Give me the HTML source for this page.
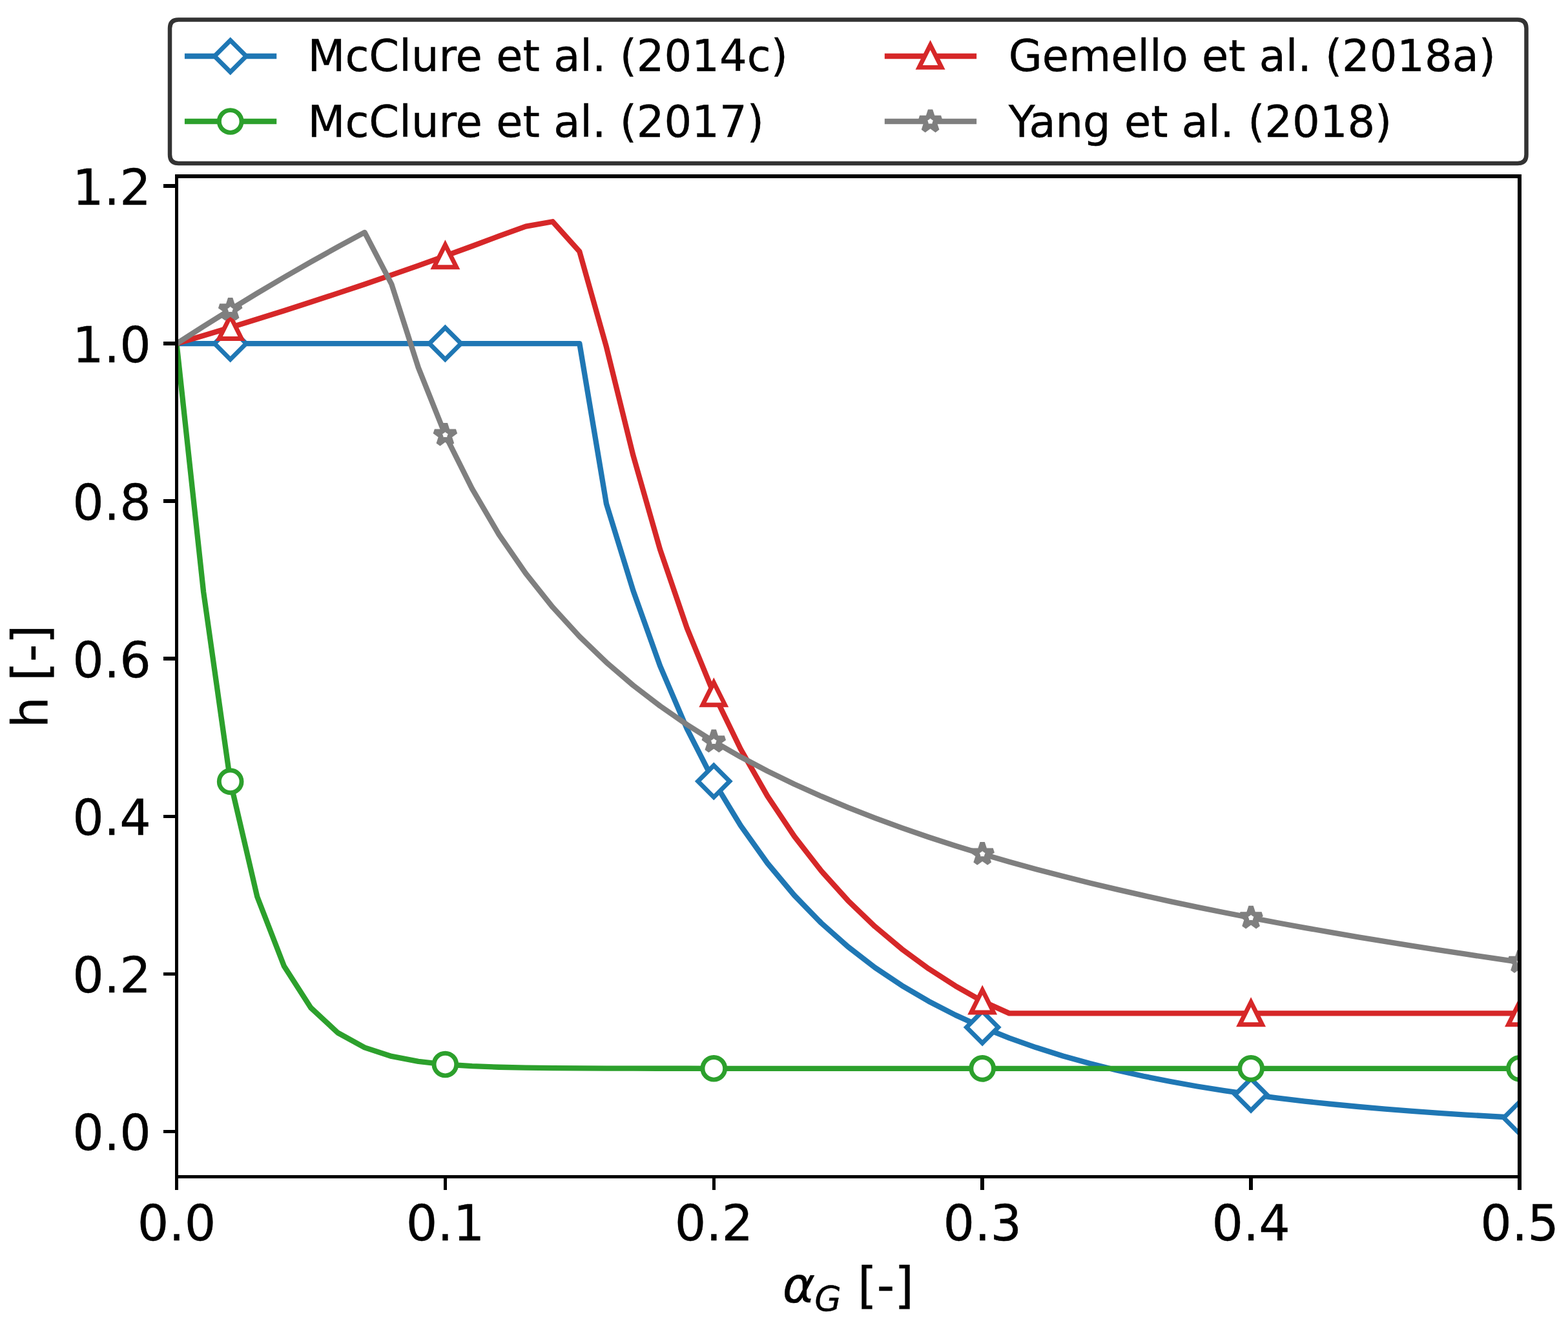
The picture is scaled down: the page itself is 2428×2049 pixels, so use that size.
<!DOCTYPE html>
<html lang="en">
<head>
<meta charset="utf-8">
<title>Swarm factor h vs gas fraction</title>
<style>
html,body{margin:0;padding:0;background:#fff;}
body{width:2428px;height:2049px;overflow:hidden;}
svg{display:block;}
</style>
</head>
<body>
<svg width="2428" height="2049" viewBox="0 0 2428 2049">
<defs><clipPath id="ax"><rect x="273.5" y="273" width="2079.5" height="1549.5"/></clipPath></defs>
<rect width="2428" height="2049" fill="#fff"/>
<g clip-path="url(#ax)">
<polyline points="273.5,532.05 315.09,532.05 356.68,532.05 398.27,532.05 439.86,532.05 481.45,532.05 523.04,532.05 564.63,532.05 606.22,532.05 647.81,532.05 689.4,532.05 730.99,532.05 772.58,532.05 814.17,532.05 855.76,532.05 897.35,532.05 938.94,780.23 980.53,915.02 1022.12,1031.44 1063.71,1128.64 1105.3,1210.05 1146.89,1278.69 1188.48,1336.97 1230.07,1386.74 1271.66,1429.5 1313.25,1466.41 1354.84,1498.43 1396.43,1526.32 1438.02,1550.7 1479.61,1572.1 1521.2,1590.95 1562.79,1607.59 1604.38,1622.32 1645.97,1635.41 1687.56,1647.06 1729.15,1657.44 1770.74,1666.73 1812.33,1675.04 1853.92,1682.5 1895.51,1689.2 1937.1,1695.24 1978.69,1700.67 2020.28,1705.57 2061.87,1710 2103.46,1714 2145.05,1717.63 2186.64,1720.91 2228.23,1723.88 2269.82,1726.58 2311.41,1729.03 2353,1731.25" fill="none" stroke="#1f77b4" stroke-width="8.33" stroke-linejoin="round" stroke-linecap="square"/>
<polygon points="356.68,556.61 381.23,532.05 356.68,507.5 332.13,532.05" fill="#fff" stroke="#1f77b4" stroke-width="6.94" stroke-linejoin="miter"/>
<polygon points="689.4,556.61 713.95,532.05 689.4,507.5 664.85,532.05" fill="#fff" stroke="#1f77b4" stroke-width="6.94" stroke-linejoin="miter"/>
<polygon points="1105.3,1234.6 1129.85,1210.05 1105.3,1185.5 1080.75,1210.05" fill="#fff" stroke="#1f77b4" stroke-width="6.94" stroke-linejoin="miter"/>
<polygon points="1521.2,1615.5 1545.75,1590.95 1521.2,1566.39 1496.65,1590.95" fill="#fff" stroke="#1f77b4" stroke-width="6.94" stroke-linejoin="miter"/>
<polygon points="1937.1,1719.79 1961.65,1695.24 1937.1,1670.68 1912.55,1695.24" fill="#fff" stroke="#1f77b4" stroke-width="6.94" stroke-linejoin="miter"/>
<polygon points="2353,1755.81 2377.55,1731.25 2353,1706.7 2328.45,1731.25" fill="#fff" stroke="#1f77b4" stroke-width="6.94" stroke-linejoin="miter"/>
<polyline points="273.5,532.05 315.09,916.47 356.68,1210.38 398.27,1388.69 439.86,1496.3 481.45,1560.91 523.04,1599.49 564.63,1622.4 606.22,1635.93 647.81,1643.88 689.4,1648.52 730.99,1651.21 772.58,1652.77 814.17,1653.66 855.76,1654.16 897.35,1654.45 938.94,1654.61 980.53,1654.7 1022.12,1654.75 1063.71,1654.78 1105.3,1654.79 1146.89,1654.8 1188.48,1654.8 1230.07,1654.81 1271.66,1654.81 1313.25,1654.81 1354.84,1654.81 1396.43,1654.81 1438.02,1654.81 1479.61,1654.81 1521.2,1654.81 1562.79,1654.81 1604.38,1654.81 1645.97,1654.81 1687.56,1654.81 1729.15,1654.81 1770.74,1654.81 1812.33,1654.81 1853.92,1654.81 1895.51,1654.81 1937.1,1654.81 1978.69,1654.81 2020.28,1654.81 2061.87,1654.81 2103.46,1654.81 2145.05,1654.81 2186.64,1654.81 2228.23,1654.81 2269.82,1654.81 2311.41,1654.81 2353,1654.81" fill="none" stroke="#2ca02c" stroke-width="8.33" stroke-linejoin="round" stroke-linecap="square"/>
<circle cx="356.68" cy="1210.38" r="17.36" fill="#fff" stroke="#2ca02c" stroke-width="6.94"/>
<circle cx="689.4" cy="1648.52" r="17.36" fill="#fff" stroke="#2ca02c" stroke-width="6.94"/>
<circle cx="1105.3" cy="1654.79" r="17.36" fill="#fff" stroke="#2ca02c" stroke-width="6.94"/>
<circle cx="1521.2" cy="1654.81" r="17.36" fill="#fff" stroke="#2ca02c" stroke-width="6.94"/>
<circle cx="1937.1" cy="1654.81" r="17.36" fill="#fff" stroke="#2ca02c" stroke-width="6.94"/>
<circle cx="2353" cy="1654.81" r="17.36" fill="#fff" stroke="#2ca02c" stroke-width="6.94"/>
<polyline points="273.5,532.05 315.09,519.73 356.68,507.15 398.27,494.31 439.86,481.2 481.45,467.82 523.04,454.16 564.63,440.2 606.22,425.93 647.81,411.36 689.4,396.45 730.99,381.22 772.58,365.7 814.17,350.59 855.76,343.24 897.35,389.52 938.94,537.18 980.53,705.67 1022.12,851.19 1063.71,972.69 1105.3,1074.45 1146.89,1160.26 1188.48,1233.1 1230.07,1295.32 1271.66,1348.76 1313.25,1394.91 1354.84,1434.93 1396.43,1469.79 1438.02,1500.27 1479.61,1527.02 1521.2,1550.57 1562.79,1569.38 1604.38,1569.38 1645.97,1569.38 1687.56,1569.38 1729.15,1569.38 1770.74,1569.38 1812.33,1569.38 1853.92,1569.38 1895.51,1569.38 1937.1,1569.38 1978.69,1569.38 2020.28,1569.38 2061.87,1569.38 2103.46,1569.38 2145.05,1569.38 2186.64,1569.38 2228.23,1569.38 2269.82,1569.38 2311.41,1569.38 2353,1569.38" fill="none" stroke="#d62728" stroke-width="8.33" stroke-linejoin="round" stroke-linecap="square"/>
<polygon points="356.68,489.79 339.32,524.51 374.04,524.51" fill="#fff" stroke="#d62728" stroke-width="6.94" stroke-linejoin="miter" stroke-miterlimit="10"/>
<polygon points="689.4,379.09 672.04,413.82 706.76,413.82" fill="#fff" stroke="#d62728" stroke-width="6.94" stroke-linejoin="miter" stroke-miterlimit="10"/>
<polygon points="1105.3,1057.09 1087.94,1091.81 1122.66,1091.81" fill="#fff" stroke="#d62728" stroke-width="6.94" stroke-linejoin="miter" stroke-miterlimit="10"/>
<polygon points="1521.2,1533.21 1503.84,1567.93 1538.56,1567.93" fill="#fff" stroke="#d62728" stroke-width="6.94" stroke-linejoin="miter" stroke-miterlimit="10"/>
<polygon points="1937.1,1552.02 1919.74,1586.74 1954.46,1586.74" fill="#fff" stroke="#d62728" stroke-width="6.94" stroke-linejoin="miter" stroke-miterlimit="10"/>
<polygon points="2353,1552.02 2335.64,1586.74 2370.36,1586.74" fill="#fff" stroke="#d62728" stroke-width="6.94" stroke-linejoin="miter" stroke-miterlimit="10"/>
<polyline points="273.5,532.15 315.09,505.45 356.68,479.45 398.27,454.15 439.86,429.54 481.45,405.64 523.04,382.42 564.63,359.91 606.22,439.84 647.81,569.36 689.4,673.58 730.99,756.81 772.58,827.78 814.17,888.19 855.76,940.3 897.35,985.77 938.94,1025.85 980.53,1061.49 1022.12,1093.42 1063.71,1122.24 1105.3,1148.41 1146.89,1172.3 1188.48,1194.24 1230.07,1214.47 1271.66,1233.21 1313.25,1250.63 1354.84,1266.9 1396.43,1282.13 1438.02,1296.44 1479.61,1309.92 1521.2,1322.65 1562.79,1334.72 1604.38,1346.18 1645.97,1357.08 1687.56,1367.48 1729.15,1377.42 1770.74,1386.93 1812.33,1396.06 1853.92,1404.82 1895.51,1413.26 1937.1,1421.39 1978.69,1429.24 2020.28,1436.82 2061.87,1444.16 2103.46,1451.28 2145.05,1458.17 2186.64,1464.87 2228.23,1471.39 2269.82,1477.73 2311.41,1483.9 2353,1489.92" fill="none" stroke="#7f7f7f" stroke-width="8.33" stroke-linejoin="round" stroke-linecap="square"/>
<polygon points="356.68,462.09 352.78,474.09 340.17,474.09 350.37,481.5 346.48,493.5 356.68,486.08 366.88,493.5 362.99,481.5 373.19,474.09 360.58,474.09" fill="#fff" stroke="#7f7f7f" stroke-width="7.64" stroke-linejoin="bevel"/>
<polygon points="689.4,656.22 685.5,668.21 672.89,668.21 683.09,675.63 679.2,687.63 689.4,680.21 699.6,687.63 695.71,675.63 705.91,668.21 693.3,668.21" fill="#fff" stroke="#7f7f7f" stroke-width="7.64" stroke-linejoin="bevel"/>
<polygon points="1105.3,1131.05 1101.4,1143.04 1088.79,1143.04 1098.99,1150.46 1095.1,1162.45 1105.3,1155.04 1115.5,1162.45 1111.61,1150.46 1121.81,1143.04 1109.2,1143.04" fill="#fff" stroke="#7f7f7f" stroke-width="7.64" stroke-linejoin="bevel"/>
<polygon points="1521.2,1305.29 1517.3,1317.29 1504.69,1317.29 1514.89,1324.7 1511,1336.7 1521.2,1329.29 1531.4,1336.7 1527.51,1324.7 1537.71,1317.29 1525.1,1317.29" fill="#fff" stroke="#7f7f7f" stroke-width="7.64" stroke-linejoin="bevel"/>
<polygon points="1937.1,1404.03 1933.2,1416.03 1920.59,1416.03 1930.79,1423.44 1926.9,1435.44 1937.1,1428.02 1947.3,1435.44 1943.41,1423.44 1953.61,1416.03 1941,1416.03" fill="#fff" stroke="#7f7f7f" stroke-width="7.64" stroke-linejoin="bevel"/>
<polygon points="2353,1472.56 2349.1,1484.56 2336.49,1484.56 2346.69,1491.97 2342.8,1503.97 2353,1496.55 2363.2,1503.97 2359.31,1491.97 2369.51,1484.56 2356.9,1484.56" fill="#fff" stroke="#7f7f7f" stroke-width="7.64" stroke-linejoin="bevel"/>
</g>
<g fill="#000">
<rect x="271" y="270" width="5" height="1555" fill="#000"/>
<rect x="2350" y="270" width="6" height="1555" fill="#000"/>
<rect x="271" y="270" width="2085" height="6" fill="#000"/>
<rect x="271" y="1820" width="2085" height="5" fill="#000"/>
<rect x="271" y="1822.5" width="5" height="20.5" fill="#000"/>
<rect x="687" y="1822.5" width="5" height="20.5" fill="#000"/>
<rect x="1103" y="1822.5" width="5" height="20.5" fill="#000"/>
<rect x="1518" y="1822.5" width="6" height="20.5" fill="#000"/>
<rect x="1934" y="1822.5" width="6" height="20.5" fill="#000"/>
<rect x="2350" y="1822.5" width="6" height="20.5" fill="#000"/>
<rect x="253" y="1750" width="20.5" height="5" fill="#000"/>
<rect x="253" y="1506" width="20.5" height="5" fill="#000"/>
<rect x="253" y="1262" width="20.5" height="5" fill="#000"/>
<rect x="253" y="1017" width="20.5" height="6" fill="#000"/>
<rect x="253" y="773" width="20.5" height="6" fill="#000"/>
<rect x="253" y="529" width="20.5" height="6" fill="#000"/>
<rect x="253" y="285" width="20.5" height="6" fill="#000"/>
</g>
<g font-family="'DejaVu Sans','Liberation Sans',sans-serif" font-size="76.39" fill="#000" stroke="#000" stroke-width="0.4">
<text x="273.6" y="1920.9" text-anchor="middle">0.0</text>
<text x="689.5" y="1920.9" text-anchor="middle">0.1</text>
<text x="1105.4" y="1920.9" text-anchor="middle">0.2</text>
<text x="1521.3" y="1920.9" text-anchor="middle">0.3</text>
<text x="1937.2" y="1920.9" text-anchor="middle">0.4</text>
<text x="2353.1" y="1920.9" text-anchor="middle">0.5</text>
<text x="233.8" y="1781.29" text-anchor="end">0.0</text>
<text x="233.8" y="1537.21" text-anchor="end">0.2</text>
<text x="233.8" y="1293.14" text-anchor="end">0.4</text>
<text x="233.8" y="1049.06" text-anchor="end">0.6</text>
<text x="233.8" y="804.98" text-anchor="end">0.8</text>
<text x="233.8" y="560.9" text-anchor="end">1.0</text>
<text x="233.8" y="316.83" text-anchor="end">1.2</text>
<text transform="translate(73.1 1047.5) rotate(-90)" text-anchor="middle">h [-]</text>
<text y="2016.9"><tspan x="1211.7" font-style="oblique">α</tspan><tspan x="1261.3" dy="13.13" font-size="53.47" font-style="oblique">G</tspan><tspan x="1327.9" dy="-13.13">[-]</tspan></text>
</g>
<path d="M 276.43 253 L 2350.07 253 Q 2363.5 253 2363.5 239.57 L 2363.5 43.83 Q 2363.5 30.4 2350.07 30.4 L 276.43 30.4 Q 263 30.4 263 43.83 L 263 239.57 Q 263 253 276.43 253 Z" fill="#fff" stroke="#333" stroke-width="6.5" stroke-linejoin="miter"/>
<g font-family="'DejaVu Sans','Liberation Sans',sans-serif" font-size="67.15" fill="#000" stroke="#000" stroke-width="0.4">
<line x1="290.1" y1="87" x2="424.1" y2="87" stroke="#1f77b4" stroke-width="8.33" stroke-linecap="square"/>
<polygon points="356.7,111.55 381.25,87 356.7,62.45 332.15,87" fill="#fff" stroke="#1f77b4" stroke-width="6.94" stroke-linejoin="miter"/>
<text x="476.5" y="110.1">McClure et al. (2014c)</text>
<line x1="290.1" y1="188" x2="424.1" y2="188" stroke="#2ca02c" stroke-width="8.33" stroke-linecap="square"/>
<circle cx="356.7" cy="188" r="17.36" fill="#fff" stroke="#2ca02c" stroke-width="6.94"/>
<text x="476.5" y="211.7">McClure et al. (2017)</text>
<line x1="1374" y1="87" x2="1508" y2="87" stroke="#d62728" stroke-width="8.33" stroke-linecap="square"/>
<polygon points="1440.6,69.64 1423.24,104.36 1457.96,104.36" fill="#fff" stroke="#d62728" stroke-width="6.94" stroke-linejoin="miter" stroke-miterlimit="10"/>
<text x="1561.7" y="110.1" letter-spacing="-0.065">Gemello et al. (2018a)</text>
<line x1="1374" y1="188" x2="1508" y2="188" stroke="#7f7f7f" stroke-width="8.33" stroke-linecap="square"/>
<polygon points="1440.6,170.64 1436.7,182.64 1424.09,182.64 1434.29,190.05 1430.4,202.05 1440.6,194.63 1450.8,202.05 1446.91,190.05 1457.11,182.64 1444.5,182.64" fill="#fff" stroke="#7f7f7f" stroke-width="7.64" stroke-linejoin="bevel"/>
<text x="1561.7" y="211.7" letter-spacing="-0.03">Yang et al. (2018)</text>
</g>
</svg>
</body>
</html>
